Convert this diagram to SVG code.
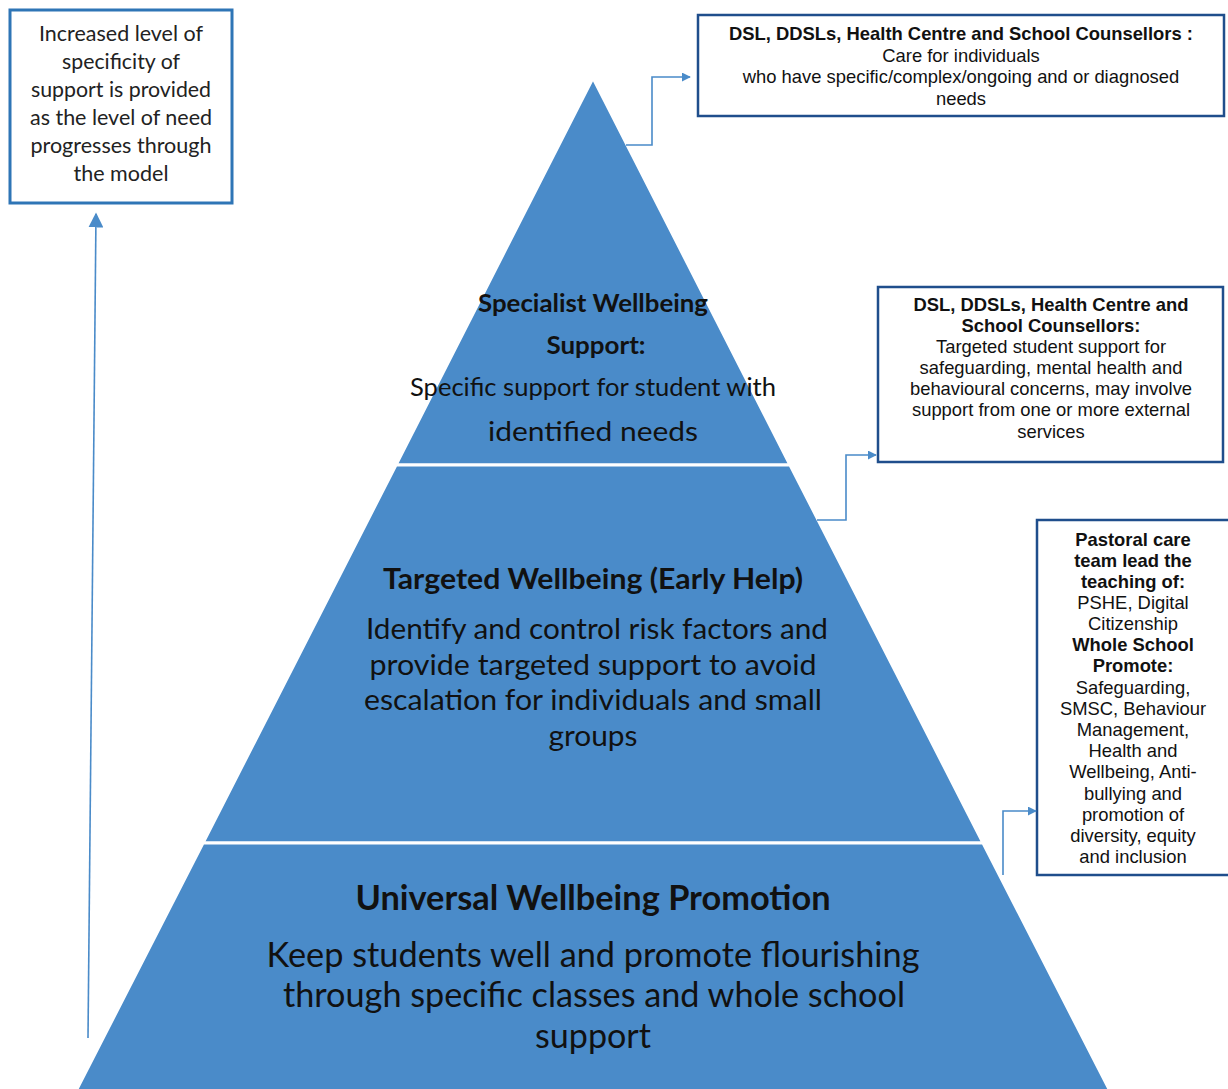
<svg xmlns="http://www.w3.org/2000/svg" width="1228" height="1089" viewBox="0 0 1228 1089">
  <style>
    .tier { fill: #4a8bc9; stroke: #ffffff; stroke-width: 3; }
    .pt { font-family: Lato, "Open Sans", sans-serif; fill: #111111; text-anchor: middle; }
    .pb { font-weight: bold; }
    .note { fill: #ffffff; stroke: #1f4e8c; stroke-width: 2.5; }
    .nt { font-family: "Liberation Sans", Arial, sans-serif; font-size: 18.4px; fill: #111111; text-anchor: middle; }
    .nb { font-weight: bold; }
    .side { fill: #ffffff; stroke: #2e75b6; stroke-width: 3; }
    .st { font-family: Lato, "Open Sans", sans-serif; font-size: 21px; fill: #222222; text-anchor: middle; }
    .link { fill: none; stroke: #4a8bc9; stroke-width: 1.6; }
  </style>
  <defs>
    <marker id="arrow" viewBox="0 0 10 10" refX="9" refY="5" markerWidth="9" markerHeight="9" markerUnits="userSpaceOnUse" orient="auto">
      <path d="M0,0 L10,5 L0,10 z" fill="#4a8bc9"/>
    </marker>
    <marker id="arrowBig" viewBox="0 0 10 10" refX="9" refY="5" markerWidth="15" markerHeight="15" markerUnits="userSpaceOnUse" orient="auto">
      <path d="M0,0 L10,5 L0,10 z" fill="#4a8bc9"/>
    </marker>
  </defs>

  <rect width="1228" height="1089" fill="#ffffff"/>

  <!-- pyramid tiers -->
  <g id="tier-specialist">
    <polygon class="tier" points="593,78 790,465 396,465"/>
    <text class="pt pb" x="593" y="312" font-size="24" textLength="230" lengthAdjust="spacingAndGlyphs">Specialist Wellbeing</text>
    <text class="pt pb" x="596" y="354" font-size="24" textLength="99" lengthAdjust="spacingAndGlyphs">Support:</text>
    <text class="pt" x="593" y="396" font-size="25" textLength="366" lengthAdjust="spacingAndGlyphs">Specific support for student with</text>
    <text class="pt" x="593" y="441" font-size="27" textLength="210" lengthAdjust="spacingAndGlyphs">identified needs</text>
  </g>

  <g id="tier-targeted">
    <polygon class="tier" points="396,465 790,465 983,843 203,843"/>
    <text class="pt pb" x="593" y="589" font-size="28" textLength="420" lengthAdjust="spacingAndGlyphs">Targeted Wellbeing (Early Help)</text>
    <text class="pt" x="597" y="639" font-size="28" textLength="462" lengthAdjust="spacingAndGlyphs">Identify and control risk factors and</text>
    <text class="pt" x="593" y="675" font-size="28" textLength="447" lengthAdjust="spacingAndGlyphs">provide targeted support  to avoid</text>
    <text class="pt" x="593" y="710" font-size="28" textLength="458" lengthAdjust="spacingAndGlyphs">escalation for individuals and small</text>
    <text class="pt" x="593" y="746" font-size="28" textLength="89" lengthAdjust="spacingAndGlyphs">groups</text>
  </g>

  <g id="tier-universal">
    <polygon class="tier" points="203,843 983,843 1112,1095 74,1095"/>
    <text class="pt pb" x="593" y="910" font-size="34" textLength="475" lengthAdjust="spacingAndGlyphs">Universal Wellbeing Promotion</text>
    <text class="pt" x="593" y="967" font-size="34" textLength="653" lengthAdjust="spacingAndGlyphs">Keep students well and promote flourishing</text>
    <text class="pt" x="594" y="1007" font-size="34" textLength="622" lengthAdjust="spacingAndGlyphs">through specific classes and whole school</text>
    <text class="pt" x="593" y="1048" font-size="34" textLength="116" lengthAdjust="spacingAndGlyphs">support</text>
  </g>

  <!-- side note on the left -->
  <g id="note-specificity">
    <rect class="side" x="10" y="10" width="222" height="193"/>
    <text class="st" x="121" y="41" textLength="164" lengthAdjust="spacingAndGlyphs">Increased level of</text>
    <text class="st" x="121" y="69" textLength="118" lengthAdjust="spacingAndGlyphs">specificity of</text>
    <text class="st" x="121" y="97" textLength="180" lengthAdjust="spacingAndGlyphs">support is provided</text>
    <text class="st" x="121" y="125" textLength="182" lengthAdjust="spacingAndGlyphs">as the level of need</text>
    <text class="st" x="121" y="153" textLength="181" lengthAdjust="spacingAndGlyphs">progresses through</text>
    <text class="st" x="121" y="181" textLength="95" lengthAdjust="spacingAndGlyphs">the model</text>
  </g>

  <!-- staff notes on the right -->
  <g id="note-specialist">
    <rect class="note" x="698" y="15" width="526" height="101"/>
    <text class="nt nb" x="961" y="40">DSL, DDSLs, Health Centre and School Counsellors :</text>
    <text class="nt" x="961" y="62">Care for individuals</text>
    <text class="nt" x="961" y="83">who have specific/complex/ongoing and or diagnosed</text>
    <text class="nt" x="961" y="105">needs</text>
  </g>

  <g id="note-targeted">
    <rect class="note" x="878" y="287" width="345" height="175"/>
    <text class="nt nb" x="1051" y="311">DSL, DDSLs, Health Centre and</text>
    <text class="nt nb" x="1051" y="332">School Counsellors:</text>
    <text class="nt" x="1051" y="353">Targeted student support for</text>
    <text class="nt" x="1051" y="374">safeguarding, mental health and</text>
    <text class="nt" x="1051" y="395">behavioural concerns, may involve</text>
    <text class="nt" x="1051" y="416">support from one or more external</text>
    <text class="nt" x="1051" y="438">services</text>
  </g>

  <g id="note-universal">
    <rect class="note" x="1037" y="520" width="195" height="355"/>
    <text class="nt nb" x="1133" y="546">Pastoral care</text>
    <text class="nt nb" x="1133" y="567">team lead the</text>
    <text class="nt nb" x="1133" y="588">teaching of:</text>
    <text class="nt" x="1133" y="609">PSHE, Digital</text>
    <text class="nt" x="1133" y="630">Citizenship</text>
    <text class="nt nb" x="1133" y="651">Whole School</text>
    <text class="nt nb" x="1133" y="672">Promote:</text>
    <text class="nt" x="1133" y="694">Safeguarding,</text>
    <text class="nt" x="1133" y="715">SMSC, Behaviour</text>
    <text class="nt" x="1133" y="736">Management,</text>
    <text class="nt" x="1133" y="757">Health and</text>
    <text class="nt" x="1133" y="778">Wellbeing, Anti-</text>
    <text class="nt" x="1133" y="800">bullying and</text>
    <text class="nt" x="1133" y="821">promotion of</text>
    <text class="nt" x="1133" y="842">diversity, equity</text>
    <text class="nt" x="1133" y="863">and inclusion</text>
  </g>

  <!-- connectors -->
  <g id="connectors">
    <polyline class="link" points="626,145 652,145 652,77 690,77" marker-end="url(#arrow)"/>
    <polyline class="link" points="817,520 846,520 846,455 876,455" marker-end="url(#arrow)"/>
    <polyline class="link" points="1003,875 1003,811 1036,811" marker-end="url(#arrow)"/>
    <line class="link" x1="88" y1="1038" x2="96" y2="214" stroke-width="1.4" marker-end="url(#arrowBig)"/>
  </g>
</svg>
